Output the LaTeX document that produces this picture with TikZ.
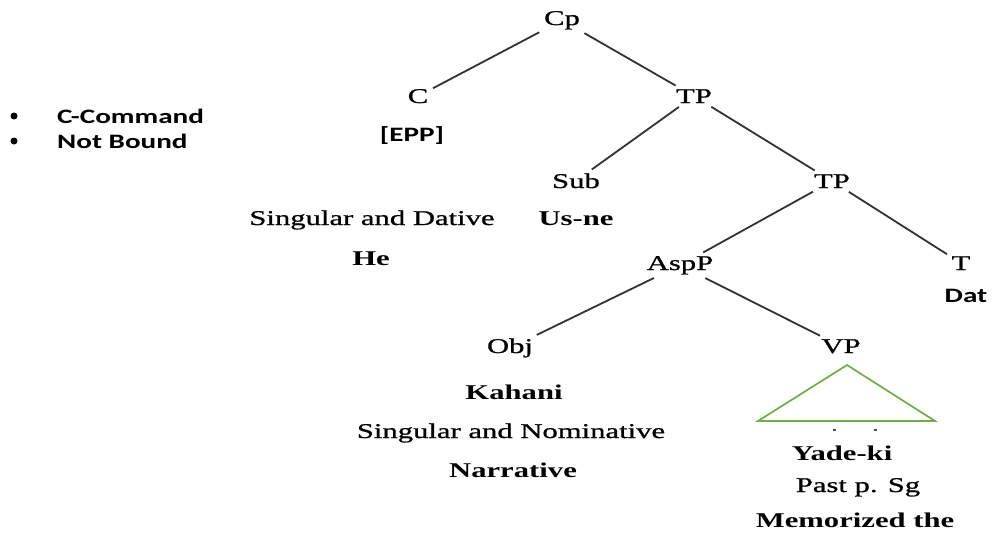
\documentclass[tikz,border=0pt]{standalone}
\usepackage{fontspec}
% Times-like serif for the tree, Calibri-like sans for the notes
\newfontfamily\treefont[FakeStretch=1.46, FakeBold=0.9]{Liberation Serif}
\newfontfamily\treebold[FakeStretch=1.46]{Liberation Serif Bold}
\newfontfamily\notefont[FakeStretch=1.42]{Carlito}
\definecolor{triGreen}{RGB}{112,173,71}
\definecolor{edgeGray}{RGB}{50,50,50}
\begin{document}
\begin{tikzpicture}[x=1pt,y=-1pt,
  cat/.style={font=\treefont\fontsize{21}{24}\selectfont, anchor=base, inner sep=2pt},
  word/.style={font=\treebold\fontsize{21}{24}\selectfont, anchor=base, inner sep=2pt},
  note/.style={font=\notefont\bfseries\fontsize{20.5}{24}\selectfont, anchor=base, inner sep=2pt},
  bullet/.style={circle, fill=black, inner sep=0pt, minimum size=7pt},
  edge/.style={draw=edgeGray, line width=1.8pt, shorten <=3pt, shorten >=3pt},
  tri/.style={draw=triGreen, line width=1.7pt},
  tick/.style={draw=black!70, line width=1.2pt}]
\useasboundingbox (0,0) rectangle (992,536);
\fill[white] (0,0) rectangle (992,536);

% legend
\node[bullet] (b1) at (14,116) {};
\node[bullet] (b2) at (14,141) {};
\node[note, anchor=base west] (cc) at (55,123) {C-Command};
\node[note, anchor=base west] (nb) at (55,148) {Not Bound};

% tree nodes
\node[cat] (cp) at (562,25) {Cp};
\node[cat] (c) at (418,103) {C};
\node[note] (epp) at (412,141) {[EPP]};
\node[cat] (tp1) at (694,103) {TP};
\node[cat] (sub) at (576,188) {Sub};
\node[word] (usne) at (576,225) {Us-ne};
\node[cat] (tp2) at (832,188) {TP};
\node[cat] (sgdat) at (372,225) {Singular and Dative};
\node[word] (he) at (371,265) {He};
\node[cat] (asp) at (680,270) {AspP};
\node[cat] (t) at (961,270) {T};
\node[note] (dat) at (966,302) {Dat};
\node[cat] (obj) at (510,353) {Obj};
\node[cat] (vp) at (841,353) {VP};
\node[word] (kahani) at (514,399) {Kahani};
\node[cat] (sgnom) at (511,438) {Singular and Nominative};
\node[word] (narr) at (513,477) {Narrative};
\node[word] (yade) at (842,460) {Yade-ki};
\node[cat] (past) at (858,492) {Past p. Sg};
\node[word] (memo) at (855,527) {Memorized the};

% branches
\draw[edge] (cp) -- (c);
\draw[edge] (cp) -- (tp1);
\draw[edge] (tp1) -- (sub);
\draw[edge] (tp1) -- (tp2);
\draw[edge] (tp2) -- (asp);
\draw[edge] (tp2) -- (t);
\draw[edge] (asp) -- (obj);
\draw[edge] (asp) -- (vp);

% collapsed VP
\coordinate (apex) at (847,365);
\coordinate (bl) at (758,421);
\coordinate (br) at (935,421);
\draw[tri] (apex) -- (bl) -- (br) -- cycle;
\draw[tick] (833,430) -- (835.5,430);
\draw[tick] (874,430) -- (876.5,430);
\end{tikzpicture}
\end{document}
